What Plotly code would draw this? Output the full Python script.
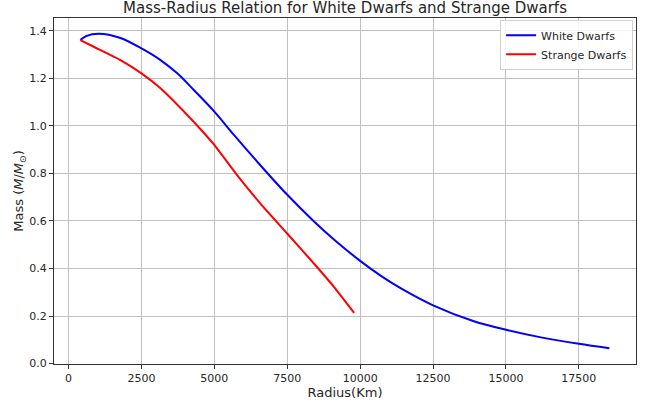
import plotly.graph_objects as go

# White dwarf mass-radius data (radius in km, mass in solar masses)
wd_radius = [405, 600, 1041, 1779, 2500, 3153, 3727, 4296, 5000, 5670, 6500, 7500,
             8400, 9100, 10000, 10700, 11400, 12500, 13900, 15000, 16200, 17500, 18548]
wd_mass = [1.361, 1.378, 1.388, 1.370, 1.326, 1.277, 1.221, 1.151, 1.060, 0.962, 0.845, 0.710,
           0.600, 0.522, 0.432, 0.370, 0.316, 0.245, 0.178, 0.142, 0.110, 0.083, 0.064]

# Strange dwarf mass-radius data
sd_radius = [405, 862, 1779, 2500, 3153, 4069, 4526, 4990, 5786, 6587, 7504, 8420, 9107, 9794]
sd_mass = [1.361, 1.333, 1.277, 1.221, 1.158, 1.046, 0.986, 0.921, 0.792, 0.672, 0.546, 0.420, 0.322, 0.213]

x_ticks = [0, 2500, 5000, 7500, 10000, 12500, 15000, 17500]
y_ticks = [0.0, 0.2, 0.4, 0.6, 0.8, 1.0, 1.2, 1.4]

fig = go.Figure()
fig.add_trace(go.Scatter(x=wd_radius, y=wd_mass, mode="lines", name="White Dwarfs",
                         line=dict(color="#0000ff", width=2, shape="spline", smoothing=0.9)))
fig.add_trace(go.Scatter(x=sd_radius, y=sd_mass, mode="lines", name="Strange Dwarfs",
                         line=dict(color="#ff0000", width=2, shape="spline", smoothing=0.5)))

axis_common = dict(showline=True, linecolor="#333333", linewidth=1, mirror=True,
                   showgrid=True, gridcolor="#c0c0c0", gridwidth=1,
                   ticks="outside", ticklen=4, tickcolor="#333333",
                   tickfont=dict(family="DejaVu Sans", size=11, color="#262626"),
                   zeroline=False, automargin=False)

fig.update_layout(
    width=654, height=408,
    paper_bgcolor="white", plot_bgcolor="white",
    margin=dict(l=54, r=18, t=18, b=44),
    title=dict(text="Mass-Radius Relation for White Dwarfs and Strange Dwarfs",
               x=(54 + 636) / 2 / 654, xanchor="center", y=0.982, yanchor="middle",
               font=dict(family="DejaVu Sans", size=15, color="#262626"), automargin=False),
    xaxis=dict(range=[-500, 19460], tickvals=x_ticks, ticktext=[str(v) for v in x_ticks],
               title=dict(text="Radius(Km)", font=dict(family="DejaVu Sans", size=13, color="#262626"),
                          standoff=1),
               **axis_common),
    yaxis=dict(range=[-0.002, 1.454], tickvals=y_ticks, ticktext=[f"{v:.1f}" for v in y_ticks],
               title=dict(text="Mass (<i>M</i>/<i>M</i><sub>⊙</sub>)",
                          font=dict(family="DejaVu Sans", size=13, color="#262626"), standoff=2),
               **axis_common),
    legend=dict(x=0.995, y=0.995, xanchor="right", yanchor="top",
                bgcolor="rgba(255,255,255,0.85)", bordercolor="#d0d0d0", borderwidth=1,
                font=dict(family="DejaVu Sans", size=11, color="#262626"),
                tracegroupgap=0, itemwidth=30),
    showlegend=True,
)

fig.write_html("out.html", config={"displayModeBar": False},
               post_script="document.body.style.margin='0';document.body.style.padding='0';")
